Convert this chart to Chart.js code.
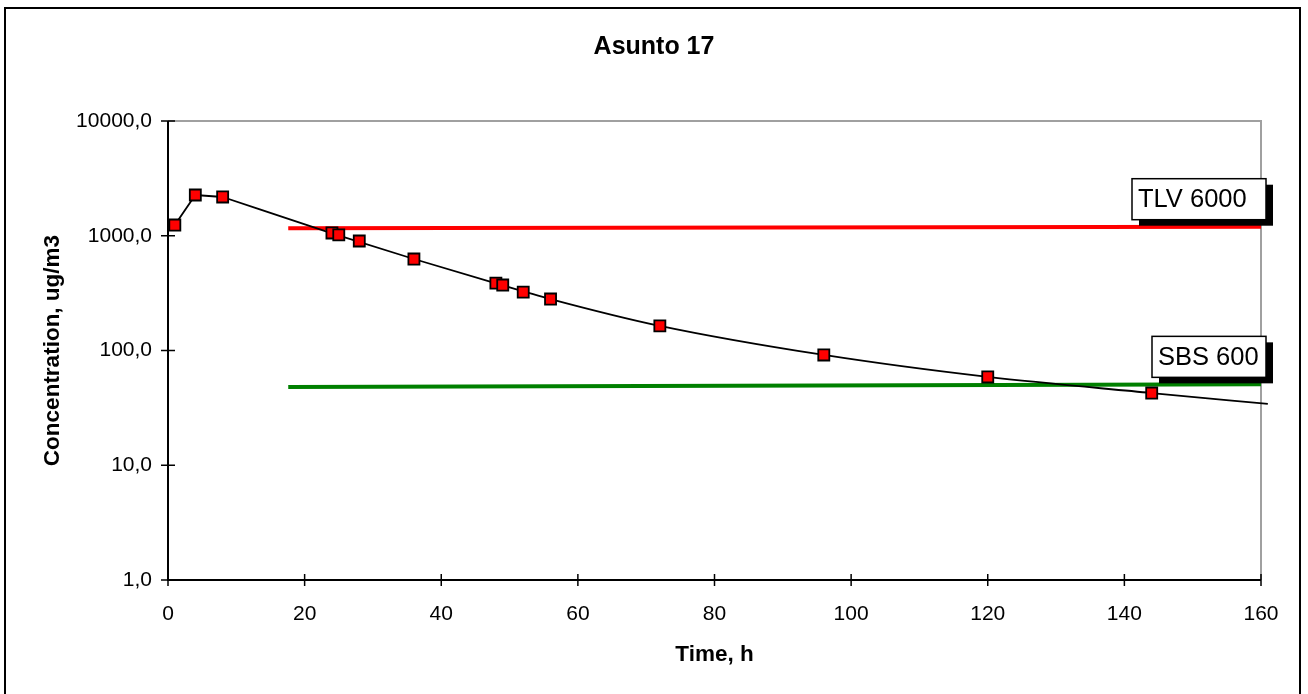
<!DOCTYPE html>
<html>
<head>
<meta charset="utf-8">
<script src="https://cdn.jsdelivr.net/npm/chart.js@4/dist/chart.umd.min.js"></script>
<style>
  html, body { margin: 0; padding: 0; background: #fff; }
  #wrap { width: 1308px; height: 694px; }
</style>
</head>
<body>
<div id="wrap"><canvas id="Asunto_Chart"></canvas></div>
<script>
// measured points (time h, concentration ug/m3)
const sampleTimes  = [1, 4, 8, 24, 25, 28, 36, 48, 49, 52, 56, 72, 96, 120, 144];
const sampleValues = [1240, 2265, 2177, 1057, 1016, 900, 627, 387, 372, 323, 281, 164, 91.4, 58.8, 42.6];

// fitted curve drawn through the samples
const riseTimes  = [1, 4, 8];
const riseValues = [1240, 2265, 2177];
const fitTimes  = [8, 24, 36, 48, 56, 72, 96, 120, 144, 161];
const fitValues = [2177, 1050, 627, 385, 281, 164, 91.4, 58.8, 42.6, 34.2];

// limit lines
const limitTimes = [17.6, 160];
const tlvValues  = [1161, 1199];
const sbsValues  = [48.1, 50.7];
const limitLabels = ['TLV 6000', 'SBS 600'];

const chartTitle = 'Asunto 17';
const yTicks = [1, 10, 100, 1000, 10000];
const xTicks = [0, 20, 40, 60, 80, 100, 120, 140, 160];

const FONT = "'Liberation Sans', Arial, sans-serif";

function toXY(xs, ys) {
  return xs.map((x, i) => ({ x: x, y: ys[i] }));
}

// frame, title, axes, ticks and the two limit labels
const decorPlugin = {
  id: 'decor',
  beforeDraw(chart) {
    const ctx = chart.ctx;
    ctx.save();
    ctx.fillStyle = '#fff';
    ctx.fillRect(0, 0, chart.width, chart.height);
    ctx.strokeStyle = '#000';
    ctx.lineWidth = 2;
    ctx.strokeRect(5, 8, 1295, 700);
    ctx.fillStyle = '#000';
    ctx.font = 'bold 25px ' + FONT;
    ctx.textAlign = 'center';
    ctx.textBaseline = 'middle';
    ctx.fillText(chartTitle, chart.width / 2, 47);
    ctx.restore();
  },
  beforeDatasetsDraw(chart) {
    const { ctx, chartArea: a, scales } = chart;
    ctx.save();
    ctx.strokeStyle = '#a0a0a0';
    ctx.lineWidth = 2;
    ctx.beginPath();
    ctx.moveTo(a.left, a.top); ctx.lineTo(a.right, a.top); ctx.lineTo(a.right, a.bottom);
    ctx.stroke();
    ctx.strokeStyle = '#000';
    ctx.beginPath();
    ctx.moveTo(a.left, a.top); ctx.lineTo(a.left, a.bottom); ctx.lineTo(a.right, a.bottom);
    ctx.stroke();
    ctx.lineWidth = 1.5;
    ctx.beginPath();
    yTicks.forEach(v => {
      const y = scales.y.getPixelForValue(v);
      ctx.moveTo(a.left - 7, y); ctx.lineTo(a.left + 7, y);
    });
    xTicks.forEach(v => {
      const x = scales.x.getPixelForValue(v);
      ctx.moveTo(x, a.bottom - 6); ctx.lineTo(x, a.bottom + 6);
    });
    ctx.stroke();
    ctx.restore();
  },
  afterDatasetsDraw(chart) {
    const { ctx, scales } = chart;
    const ends = [tlvValues[tlvValues.length - 1], sbsValues[sbsValues.length - 1]];
    const boxW = [134, 114];
    ctx.save();
    ctx.font = '25.5px ' + FONT;
    ctx.textBaseline = 'middle';
    ctx.textAlign = 'left';
    limitLabels.forEach((txt, i) => {
      const right = scales.x.getPixelForValue(160) + 5;
      const bottom = scales.y.getPixelForValue(ends[i]) - 7;
      const h = 41, w = boxW[i];
      const left = right - w, top = bottom - h;
      ctx.fillStyle = '#000';
      ctx.fillRect(left + 7, top + 6, w, h);
      ctx.fillStyle = '#fff';
      ctx.fillRect(left, top, w, h);
      ctx.strokeStyle = '#000';
      ctx.lineWidth = 1.5;
      ctx.strokeRect(left, top, w, h);
      ctx.fillStyle = '#000';
      ctx.fillText(txt, left + 6, top + h / 2 + 1);
    });
    ctx.restore();
  }
};

new Chart(document.getElementById('Asunto_Chart'), {
  type: 'scatter',
  data: {
    datasets: [
      {
        label: 'Samples',
        data: toXY(sampleTimes, sampleValues),
        showLine: false,
        pointStyle: 'rect',
        pointRadius: 7.8,
        pointHoverRadius: 7.8,
        backgroundColor: '#ff0000',
        borderColor: '#000',
        borderWidth: 1.8
      },
      {
        label: 'Rise',
        data: toXY(riseTimes, riseValues),
        showLine: true,
        pointRadius: 0,
        borderColor: '#000',
        borderWidth: 1.8
      },
      {
        label: 'Fit',
        data: toXY(fitTimes, fitValues),
        showLine: true,
        pointRadius: 0,
        borderColor: '#000',
        borderWidth: 1.8,
        cubicInterpolationMode: 'monotone',
        clip: false
      },
      {
        label: 'TLV 6000',
        data: toXY(limitTimes, tlvValues),
        showLine: true,
        pointRadius: 0,
        borderColor: '#ff0000',
        borderWidth: 4
      },
      {
        label: 'SBS 600',
        data: toXY(limitTimes, sbsValues),
        showLine: true,
        pointRadius: 0,
        borderColor: '#008000',
        borderWidth: 4
      }
    ]
  },
  options: {
    responsive: true,
    maintainAspectRatio: false,
    animation: false,
    layout: { padding: { left: 0, right: 47, top: 121, bottom: 0 } },
    plugins: {
      legend: { display: false },
      tooltip: { enabled: false },
      title: { display: false }
    },
    scales: {
      x: {
        type: 'linear',
        min: 0,
        max: 160,
        afterFit: s => { s.height = 114; },
        afterBuildTicks: s => { s.ticks = xTicks.map(v => ({ value: v })); },
        grid: { display: false, drawTicks: false },
        border: { display: false },
        ticks: { color: '#000', padding: 22, font: { family: FONT, size: 21 }, maxRotation: 0 },
        title: {
          display: true,
          text: 'Time, h',
          color: '#000',
          font: { family: FONT, size: 22.5, weight: 'bold' },
          padding: { top: 0, bottom: 26 }
        }
      },
      y: {
        type: 'logarithmic',
        min: 1,
        max: 10000,
        afterFit: s => { s.width = 168; },
        afterBuildTicks: s => { s.ticks = yTicks.map(v => ({ value: v })); },
        grid: { display: false, drawTicks: false },
        border: { display: false },
        ticks: {
          color: '#000',
          padding: 16,
          font: { family: FONT, size: 21 },
          callback: v => v.toFixed(1).replace('.', ',')
        },
        title: {
          display: true,
          text: 'Concentration, ug/m3',
          color: '#000',
          font: { family: FONT, size: 22.5, weight: 'bold' },
          padding: { top: 39, bottom: 0 }
        }
      }
    }
  },
  plugins: [decorPlugin]
});
</script>
</body>
</html>
